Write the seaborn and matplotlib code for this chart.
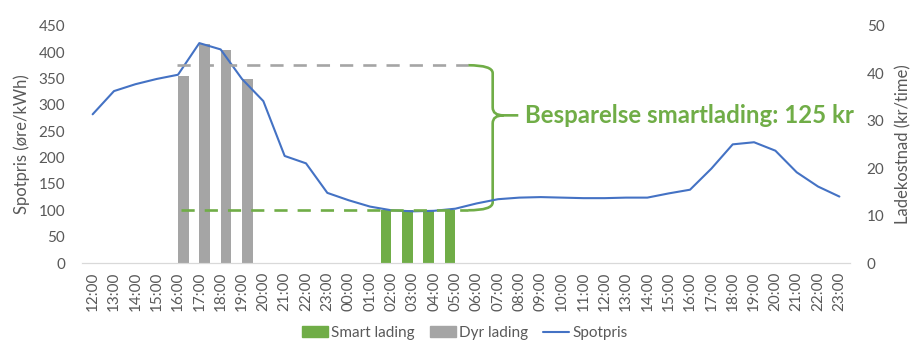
import numpy as np
import pandas as pd
import matplotlib
matplotlib.use("Agg")
import matplotlib.pyplot as plt
from matplotlib.path import Path
from matplotlib.patches import PathPatch, Patch
from matplotlib.lines import Line2D
import seaborn as sns

# data
hours = [f"{h:02d}:00" for h in range(12, 24)] + [f"{h:02d}:00" for h in range(0, 24)]
spotpris = [282, 326, 339, 349, 357, 417, 405, 349, 307, 203, 189, 133,
            119, 107, 100, 98, 99, 103, 113, 121, 124, 125, 124, 123,
            123, 124, 124, 132, 139, 179, 225, 229, 213, 172, 145, 126]
smart_idx = [14, 15, 16, 17]
smart_vals = [11.1, 11.1, 11.1, 11.1]
dyr_idx = [4, 5, 6, 7]
dyr_vals = [39.3, 46.1, 44.8, 38.8]
dyr_level = 375      # left axis units
smart_level = 100
savings_text = "Besparelse smartlading: 125 kr"

GREEN = "#70AD47"
GRAY = "#A5A5A5"
BLUE = "#4472C4"
TXT = "#595959"

sns.set_style("white")
plt.rcParams["font.family"] = ["Lato", "DejaVu Sans"]

n = len(hours)
idx = np.arange(n)
rows = []
for i in idx:
    rows.append({"idx": i, "type": "Smart lading",
                 "kost": smart_vals[smart_idx.index(i)] if i in smart_idx else 0})
    rows.append({"idx": i, "type": "Dyr lading",
                 "kost": dyr_vals[dyr_idx.index(i)] if i in dyr_idx else 0})
df = pd.DataFrame(rows)

fig = plt.figure(figsize=(9.17, 3.52), dpi=100)
ax = fig.add_axes([0.0894, 0.2528, 0.8376, 0.6742])
ax2 = ax.twinx()

sns.barplot(data=df, x="idx", y="kost", hue="type", ax=ax2,
            palette={"Smart lading": GREEN, "Dyr lading": GRAY},
            width=1.0, dodge=True, legend=False, errorbar=None,
            linewidth=0, saturation=1)
sns.lineplot(x=idx, y=spotpris, ax=ax, color=BLUE, linewidth=1.5)

ax.set_zorder(ax2.get_zorder() + 1)
ax.patch.set_visible(False)

ax.set_xlim(-0.5, n - 0.5)
ax.set_ylim(0, 450)
ax2.set_ylim(0, 50)
ax.set_yticks(range(0, 451, 50))
ax2.set_yticks(range(0, 51, 10))
ax.set_xticks(idx)
ax.set_xticklabels(hours, rotation=90)
ax2.set_xlabel("")
ax2.set_ylabel("Ladekostnad (kr/time)", fontsize=12, color=TXT, labelpad=8)
ax.set_ylabel("Spotpris (øre/kWh)", fontsize=12, color=TXT, labelpad=6)
ax.set_xlabel("")

for a in (ax, ax2):
    for s in ["top", "left", "right"]:
        a.spines[s].set_visible(False)
    a.spines["bottom"].set_color("#D9D9D9")
    a.tick_params(length=0, labelsize=11, labelcolor=TXT)
ax.tick_params(axis="y", pad=12)
ax2.tick_params(axis="y", pad=12)
ax.tick_params(axis="x", pad=6)

# dashed reference lines
x0, x1 = 3.95, 17.6
ax.plot([x0, x1], [dyr_level, dyr_level], color=GRAY, lw=1.9, dashes=(5, 3.8))
ax.plot([x0 + 0.2, x1], [smart_level, smart_level], color=GREEN, lw=1.9, dashes=(5, 3.8))

# curly brace
bx = 18.75
mid = 280
r = 15
tipx = 19.95
verts = [(x1, dyr_level), (bx, dyr_level), (bx, dyr_level - r),
         (bx, mid + r),
         (bx, mid), (bx + 0.5, mid),
         (tipx, mid),
         (bx + 0.5, mid), (bx, mid), (bx, mid - r),
         (bx, smart_level + r),
         (bx, smart_level), (x1, smart_level)]
codes = [Path.MOVETO, Path.CURVE3, Path.CURVE3,
         Path.LINETO,
         Path.CURVE3, Path.CURVE3,
         Path.LINETO,
         Path.MOVETO, Path.CURVE3, Path.CURVE3,
         Path.LINETO,
         Path.CURVE3, Path.CURVE3]
ax.add_patch(PathPatch(Path(verts, codes), fill=False, edgecolor=GREEN, lw=1.9))
ax.text(tipx + 0.3, mid, savings_text, color=GREEN, fontsize=17.3,
        fontweight="bold", va="center", ha="left")

handles = [Patch(color=GREEN, label="Smart lading"),
           Patch(color=GRAY, label="Dyr lading"),
           Line2D([], [], color=BLUE, lw=1.5, label="Spotpris")]
fig.legend(handles=handles, loc="center", bbox_to_anchor=(0.507, 0.054),
           ncol=3, frameon=False, fontsize=11, handlelength=1.7,
           handleheight=0.7, handletextpad=0.2, columnspacing=1.0,
           labelcolor=TXT)

fig.savefig("out.png", dpi=100)
